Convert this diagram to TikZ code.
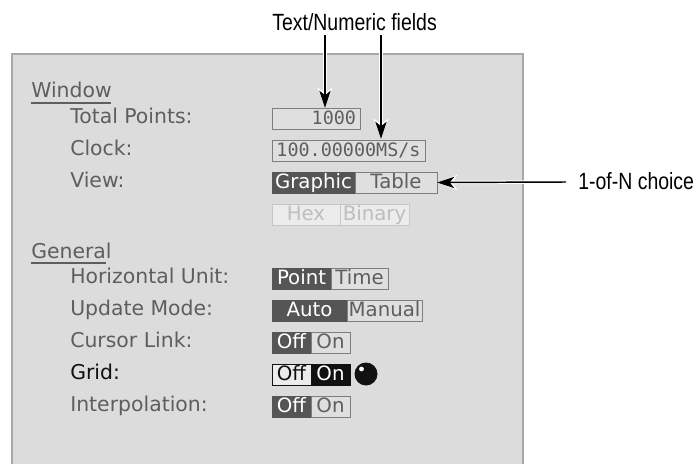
\documentclass[tikz,border=0pt]{standalone}
\usepackage{fontspec}
\setmainfont{DejaVu Sans}
\newfontfamily\annot[FakeStretch=0.83]{Liberation Sans}
\newfontfamily\uimono{DejaVu Sans Mono}
\usetikzlibrary{arrows.meta,calc}
\definecolor{panel}{HTML}{DCDCDC}
\definecolor{edge}{HTML}{A8A8A8}
\definecolor{uitext}{HTML}{5E5E5E}
\definecolor{uidark}{HTML}{555555}
\definecolor{uilight}{HTML}{DFDFDF}
\definecolor{offfill}{HTML}{ECECEC}
\definecolor{offedge}{HTML}{C6C6C6}
\definecolor{offtext}{HTML}{BEBEBE}
\definecolor{ink}{HTML}{111111}
\tikzset{
  lab/.style={anchor=west,inner sep=0pt,text=uitext,text height=12pt,text depth=2.6pt,font=\fontsize{15.3}{17}\selectfont},
  head/.style={lab},
  seg/.style={inner sep=0pt,outer sep=0pt,line width=.65pt,minimum height=15.75pt,text height=12pt,text depth=2.6pt,font=\fontsize{14.8}{17}\selectfont},
  segon/.style={seg,fill=uidark,draw=uidark,text=white},
  segoff/.style={seg,fill=uilight,draw=uitext!80,text=uitext},
  segdis/.style={seg,fill=offfill,draw=offedge,text=offtext},
  blackon/.style={seg,fill=ink,draw=ink,text=white},
  blackoff/.style={seg,fill=offfill,draw=ink,text=ink},
  field/.style={seg,fill=uilight,draw=uitext!80,text=uitext,font=\uimono\fontsize{13.8}{16}\selectfont},
  note/.style={inner sep=0pt,text=black,font=\annot\fontsize{17.6}{20}\selectfont},
  halo/.style={draw=white,line width=2.6pt,-{Stealth[length=15pt,width=11pt,inset=3.5pt]}},
  pointer/.style={draw=black,line width=1.1pt,-{Stealth[length=13pt,width=8.5pt,inset=3.5pt]}}
}
% name, left style, right style, x1, xsplit, x2, y top, text1, text2
\newcommand{\seggroup}[9]{%
  \node[#2,minimum width={(#5-#4)*0.75pt}] (#1a) at ({(#4+#5)/2},#7+10.5) {#8};
  \node[#3,minimum width={(#6-#5)*0.75pt}] (#1b) at ({(#5+#6)/2},#7+10.5) {#9};
}
\begin{document}
\begin{tikzpicture}[x=.75pt,y=-.75pt]
\useasboundingbox (0,0) rectangle (697,464);
\fill[white] (0,0) rectangle (697,464);
\fill[panel] (12,54) rectangle (523,464);
\draw[edge,line width=1.1pt] (12,464) -- (12,54) -- (523,54) -- (523,464);

% section headings
\node[head] (window) at (31,91.4) {Window};
\draw[uitext,line width=1.5pt] (30.5,102.5) -- (111,102.5);
\node[head] (general) at (31,252) {General};
\draw[uitext,line width=1.5pt] (30.5,262.5) -- (106,262.5);

% row labels
\node[lab] (ltotal) at (70,117.7) {Total Points:};
\node[lab] (lclock) at (70,149.7) {Clock:};
\node[lab] (lview) at (70,181.7) {View:};
\node[lab] (lhor) at (70,277.4) {Horizontal Unit:};
\node[lab] (lupd) at (70,309.7) {Update Mode:};
\node[lab] (lcur) at (70,341.4) {Cursor Link:};
\node[lab,text=ink] (lgrid) at (70,373.7) {Grid:};
\node[lab] (lint) at (70,405.7) {Interpolation:};

% fields
\node[field,minimum width={88*0.75pt},align=right,text width={80*0.75pt}] (ftotal) at (316,118.5) {\hfill 1000};
\node[field,minimum width={153*0.75pt}] (fclock) at (348.5,150.5) {100.00000MS/s};

% choices
\seggroup{view}{segon}{segoff}{272}{355}{437}{172}{Graphic}{Table}
\seggroup{fmt}{segdis}{segdis}{272}{340}{409}{204}{Hex}{Binary}
\seggroup{hor}{segon}{segoff}{272}{331}{388}{268}{Point}{Time}
\seggroup{upd}{segon}{segoff}{272}{347}{422}{300}{Auto}{Manual}
\seggroup{cur}{segon}{segoff}{272}{311}{350}{332}{Off}{On}
\seggroup{grid}{blackoff}{blackon}{272}{311}{350}{364}{Off}{On}
\seggroup{int}{segon}{segoff}{272}{311}{350}{396}{Off}{On}

% indicator ball
\node[circle,fill=ink,inner sep=0pt,minimum size=17.25pt] (ball) at (366,374) {};
\fill[white] (361.5,369) circle (2.4);

% annotations
\node[note,anchor=base west] (ntext) at (272,31) {Text/Numeric fields};
\node[note,anchor=base west] (nchoice) at (578,189) {1-of-N choice};
\coordinate (s1) at (325,35);
\coordinate (s2) at (381,35);
\coordinate (s3) at (566,182);
\coordinate (e1) at (325,108);
\coordinate (e2) at (381,139);
\draw[halo] (s1) -- (e1);
\draw[halo] (s2) -- (e2);
\draw[halo] (s3) -- (viewb.east);
\draw[pointer] (s1) -- (e1);
\draw[pointer] (s2) -- (e2);
\draw[pointer] (s3) -- (viewb.east);
\end{tikzpicture}
\end{document}
